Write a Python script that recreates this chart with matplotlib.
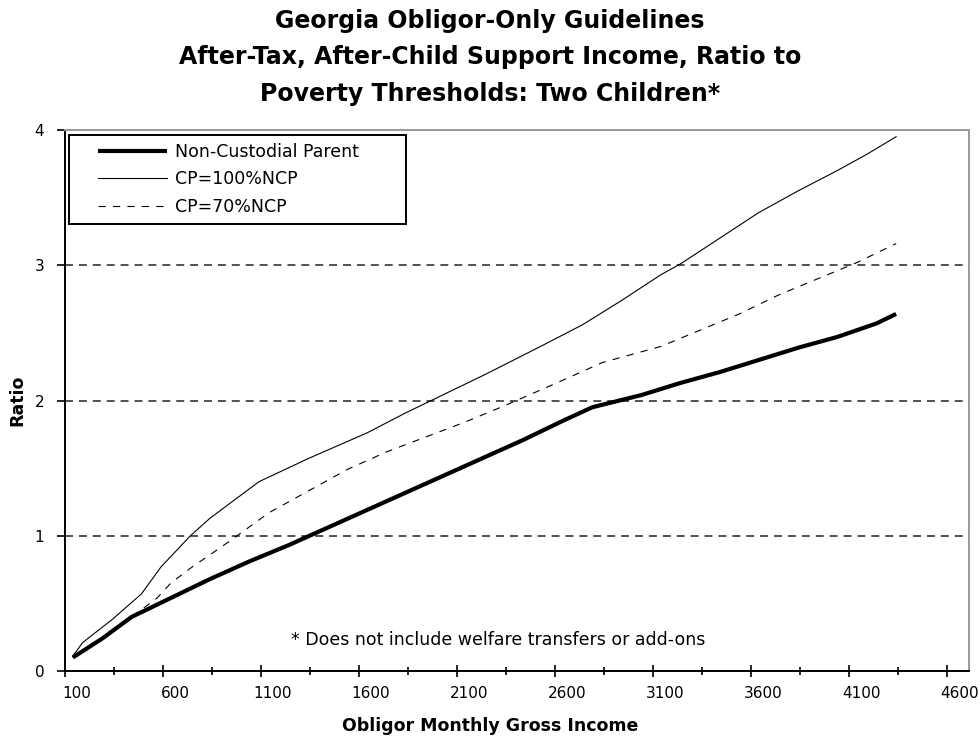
import matplotlib
matplotlib.use("Agg")
import matplotlib.pyplot as plt
from matplotlib.lines import Line2D
from matplotlib.legend_handler import HandlerLine2D
from matplotlib.transforms import ScaledTranslation

# 数据
ncp_x = [100, 250, 400, 600, 800, 1000, 1200, 1400, 1600, 1800, 2000, 2200,
         2400, 2600, 2750, 3000, 3200, 3400, 3600, 3800, 4000, 4200, 4300]
ncp_y = [0.10, 0.24, 0.40, 0.54, 0.68, 0.81, 0.93, 1.06, 1.19, 1.32, 1.45, 1.58,
         1.71, 1.85, 1.95, 2.04, 2.13, 2.21, 2.30, 2.39, 2.47, 2.57, 2.64]

cp100_x = [100, 150, 300, 450, 550, 700, 800, 1050, 1300, 1600, 1800, 2000,
           2200, 2500, 2700, 2900, 3100, 3200, 3400, 3600, 3800, 4000, 4150, 4300]
cp100_y = [0.11, 0.21, 0.38, 0.57, 0.77, 1.00, 1.13, 1.40, 1.57, 1.76, 1.91, 2.05,
           2.19, 2.41, 2.56, 2.74, 2.93, 3.01, 3.20, 3.39, 3.55, 3.70, 3.82, 3.95]

cp70_x = [100, 250, 400, 530, 600, 700, 900, 1100, 1300, 1500, 1700, 1900,
          2100, 2300, 2600, 2800, 3000, 3100, 3300, 3500, 3700, 3900, 4100, 4300]
cp70_y = [0.10, 0.24, 0.40, 0.54, 0.65, 0.76, 0.96, 1.17, 1.33, 1.49, 1.62, 1.73,
          1.84, 1.96, 2.15, 2.28, 2.36, 2.40, 2.52, 2.64, 2.78, 2.90, 3.02, 3.16]

series_names = ['Non-Custodial Parent', 'CP=100%NCP', 'CP=70%NCP']
x_labels = ['100', '600', '1100', '1600', '2100', '2600', '3100', '3600', '4100', '4600']
y_ticks = [0, 1, 2, 3, 4]


# 图例里的线往右缩一点
class PadHandler(HandlerLine2D):
    def create_artists(self, legend, orig_handle, xdescent, ydescent, width, height, fontsize, trans):
        pad = 1.2 * fontsize
        return super().create_artists(legend, orig_handle, xdescent - pad, ydescent,
                                      width - pad, height, fontsize, trans)


fig = plt.figure(figsize=(9.8, 7.45), dpi=100)
ax = fig.add_axes([0.0663, 0.0993, 0.9225, 0.7262])

# 网格虚线
for yv in y_ticks[1:4]:
    ax.axhline(yv, color='#222222', lw=1.1, linestyle=(0, (5.2, 3.9)), zorder=1)

ax.plot(ncp_x, ncp_y, color='black', lw=3.0, solid_capstyle='butt', label=series_names[0], zorder=3)
ax.plot(cp100_x, cp100_y, color='black', lw=0.8, label=series_names[1], zorder=3)
ax.plot(cp70_x, cp70_y, color='black', lw=0.8, linestyle=(0, (6.5, 6.5)), label=series_names[2], zorder=3)

ax.set_xlim(60, 4672)
ax.set_ylim(0, 4)

major = [60 + 500 * i for i in range(len(x_labels))]
minor = [310 + 500 * i for i in range(len(x_labels) - 1)]
ax.set_xticks(major, x_labels)
ax.set_xticks(minor, minor=True)
ax.tick_params(axis='x', which='major', direction='inout', length=9, width=1.2, labelsize=11, pad=6)
ax.tick_params(axis='x', which='minor', direction='inout', length=6, width=1.2)
for lab in ax.get_xticklabels():
    lab.set_transform(lab.get_transform() + ScaledTranslation(12 / 100, 0, fig.dpi_scale_trans))

ax.set_yticks(y_ticks)
ax.tick_params(axis='y', direction='out', length=6, width=1.2, labelsize=11, pad=9)

for s in ['left', 'bottom']:
    ax.spines[s].set_color('black')
    ax.spines[s].set_linewidth(1.4)
for s in ['top', 'right']:
    ax.spines[s].set_color('#999999')
    ax.spines[s].set_linewidth(1.4)

leg = ax.legend(loc='upper left', bbox_to_anchor=(0.0044, 0.821, 0.373, 0.17), mode='expand',
                fontsize=12.5, frameon=True, fancybox=False, edgecolor='black', framealpha=1,
                handlelength=5.2, handletextpad=0.45, borderpad=0.45, labelspacing=0.55,
                borderaxespad=0, handler_map={Line2D: PadHandler()})
leg.get_frame().set_linewidth(1.4)

ax.text(0.25, 0.04, '* Does not include welfare transfers or add-ons', transform=ax.transAxes,
        fontsize=12.5, ha='left', va='bottom')

fig.text(0.5, 0.988, 'Georgia Obligor-Only Guidelines\nAfter-Tax, After-Child Support Income, Ratio to\nPoverty Thresholds: Two Children*',
         ha='center', va='top', fontsize=17, fontweight='bold', linespacing=1.65)

fig.text(0.5, 0.013, 'Obligor Monthly Gross Income', ha='center', va='bottom', fontsize=12.5, fontweight='bold')
fig.text(0.018, 0.463, 'Ratio', ha='center', va='center', rotation=90, fontsize=12.5, fontweight='bold')

fig.savefig('out.png', dpi=100)
